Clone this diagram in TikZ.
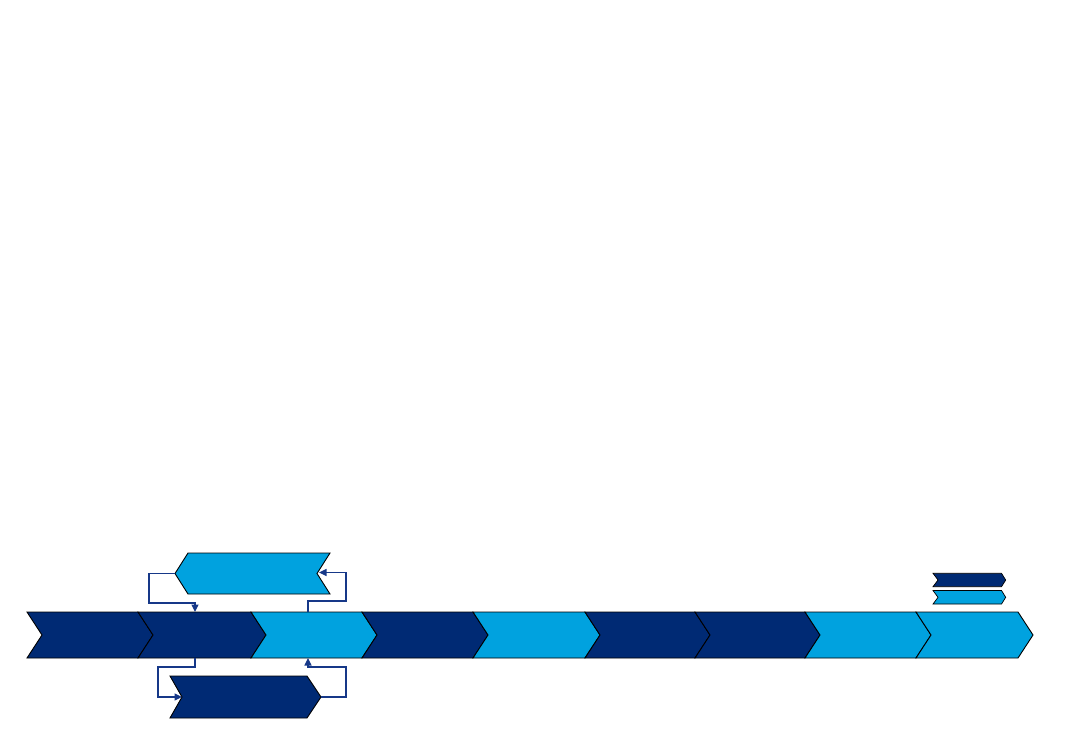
\documentclass[tikz,border=0pt]{standalone}
\usetikzlibrary{arrows.meta}
\definecolor{navy}{HTML}{002A74}
\definecolor{sky}{HTML}{00A2DF}
\definecolor{link}{HTML}{163888}
\tikzset{
  chev/.style={draw=black, line width=0.9pt, line join=miter},
  dk/.style={chev, fill=navy},
  lt/.style={chev, fill=sky},
  conn/.style={draw=link, line width=1.1pt},
  connarr/.style={conn, -{Triangle[length=7.5pt,width=7pt]}}
}
\begin{document}
\begin{tikzpicture}[x=1pt,y=-1pt]
\useasboundingbox (0,0) rectangle (1083,750);
% main row of chevrons
\def\ya{612}\def\ym{635}\def\yb{658}\def\d{15}
\foreach \xa/\xb/\st in {27/138/dk,138/251/dk,251/362/lt,362/473/dk,473/585/lt,585/695/dk,695/805/dk,805/916/lt,916/1018/lt}{
  \path[\st] (\xa,\ya) -- (\xb,\ya) -- (\xb+\d,\ym) -- (\xb,\yb) -- (\xa,\yb) -- (\xa+\d,\ym) -- cycle;
}
% top (back) arrow, pointing left
\path[lt] (188,553) -- (330,553) -- (317,573.5) -- (330,594) -- (188,594) -- (175,573.5) -- cycle;
% bottom arrow, pointing right
\path[dk] (170,676) -- (307,676) -- (321,697) -- (307,718) -- (170,718) -- (182,697) -- cycle;
% legend
\path[dk, line width=0.7pt] (933,573.3) -- (1001.5,573.3) -- (1005.7,580) -- (1001.5,586.7) -- (933,586.7) -- (938,580) -- cycle;
\path[lt, line width=0.7pt] (933,590.5) -- (1001.5,590.5) -- (1005.7,597.3) -- (1001.5,604) -- (933,604) -- (938,597.3) -- cycle;
% named anchor points for the connectors
\coordinate (topL) at (175,573.5);
\coordinate (topR) at (319,572.5);
\coordinate (botL) at (182,697);
\coordinate (botR) at (321,697);
\coordinate (c2top) at (195,612);
\coordinate (c2bot) at (195,658);
\coordinate (c3top) at (308,612);
\coordinate (c3bot) at (308,658);
% connectors
\draw[connarr] (topL) -- (149,573.5) -- (149,603) -- (195,603) -- (c2top);
\draw[connarr] (c3top) -- (308,601) -- (346,601) -- (346,572.5) -- (topR);
\draw[connarr] (c2bot) -- (195,667) -- (158,667) -- (158,697) -- (botL);
\draw[connarr] (botR) -- (346,697) -- (346,667) -- (308,667) -- (c3bot);
\end{tikzpicture}
\end{document}
